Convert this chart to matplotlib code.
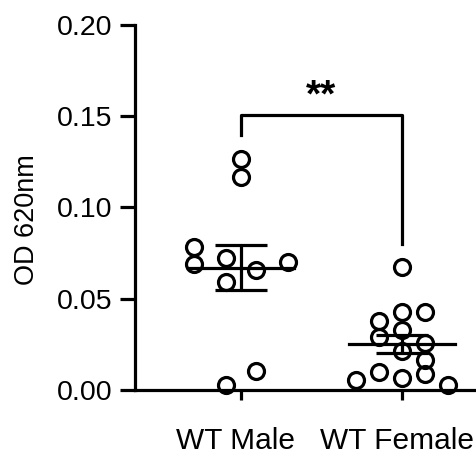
import matplotlib.pyplot as plt
import matplotlib.transforms as mtransforms
import numpy as np

plt.rcParams['font.family'] = ['Liberation Sans', 'DejaVu Sans']

# Daten
groups = ['WT Male', 'WT Female']
male = [0.1268, 0.1167, 0.0782, 0.0690, 0.0722, 0.0658, 0.0703, 0.0590, 0.0104, 0.0026]
female = [0.0676, 0.0425, 0.0425, 0.0379, 0.0328, 0.0293, 0.0260, 0.0214,
          0.0165, 0.0101, 0.0086, 0.0053, 0.0068, 0.0027]

# Streuung der Punkte in x-Richtung (Swarm-Layout)
male_jitter = [0, 0, -0.29, -0.29, -0.095, 0.095, 0.29, -0.095, 0.095, -0.095]
female_jitter = [0, 0, 0.145, -0.14, 0, -0.14, 0.145, 0, 0.145, -0.14, 0.145, -0.285, 0, 0.285]

fig = plt.figure(figsize=(4.77, 4.58), dpi=100)
ax = fig.add_axes([0.283, 0.1485, 0.717, 0.797])

lw = 2.3
for i, (vals, jit) in enumerate([(male, male_jitter), (female, female_jitter)]):
    vals = np.array(vals)
    x = i + np.array(jit)
    ax.plot(x, vals, 'o', mfc='none', mec='black', mew=2.3, ms=11.5, clip_on=False, zorder=3)
    m = vals.mean()
    sem = vals.std(ddof=1) / np.sqrt(len(vals))
    ax.plot([i - 0.33, i + 0.33], [m, m], color='black', lw=lw, zorder=4)
    ax.errorbar(i, m, yerr=sem, color='black', lw=lw, capsize=18.5, capthick=lw, zorder=4)

# Signifikanz-Klammer
ax.plot([0, 0, 1, 1], [0.1395, 0.1505, 0.1505, 0.080], color='black', lw=lw)
ax.text(0.5, 0.1555, '**', ha='center', va='baseline', fontsize=28, fontweight='bold')

ax.set_xlim(-0.658, 1.466)
ax.set_ylim(0, 0.20)
ax.set_yticks([0, 0.05, 0.10, 0.15, 0.20])
ax.set_yticklabels(['0.00', '0.05', '0.10', '0.15', '0.20'])
ax.set_xticks([0, 1])
ax.set_xticklabels(groups)
ax.set_ylabel('OD 620nm', fontsize=19.5, va='center')
ax.yaxis.set_label_coords(-0.315, 0.466)

for s in ['top', 'right']:
    ax.spines[s].set_visible(False)
for s in ['left', 'bottom']:
    ax.spines[s].set_linewidth(lw)
ax.tick_params(axis='y', length=11, width=lw, labelsize=20.5, pad=5)
ax.tick_params(axis='x', length=7, width=lw, labelsize=21.5, pad=20)

# Beschriftungen etwas nach links verschieben
shift = mtransforms.ScaledTranslation(-5 / 100, 0, fig.dpi_scale_trans)
for lab in ax.get_xticklabels():
    lab.set_transform(lab.get_transform() + shift)

plt.savefig('out.png', dpi=100)
